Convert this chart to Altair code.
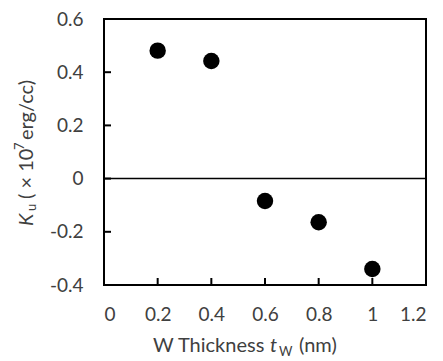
import altair as alt
import pandas as pd

thickness = [0.2, 0.4, 0.6, 0.8, 1.0]
ku = [0.481, 0.442, -0.084, -0.164, -0.34]
x_ticks = [0, 0.2, 0.4, 0.6, 0.8, 1, 1.2]
y_ticks = [-0.4, -0.2, 0, 0.2, 0.4, 0.6]
x_inner_ticks = [0.2, 0.4, 0.6, 0.8, 1.0]
y_inner_ticks = [-0.2, 0, 0.2, 0.4]

FONT = "Lato"
GRAY = "#404040"
W, H = 322, 266

df = pd.DataFrame({"t": thickness, "k": ku})
xtk = pd.DataFrame({"xv": x_inner_ticks})
ytk = pd.DataFrame({"yv": y_inner_ticks})
zero = pd.DataFrame({"z": [0]})
one = pd.DataFrame({"a": [0]})

xscale = alt.Scale(domain=[0, 1.2], nice=False, zero=False)
yscale = alt.Scale(domain=[-0.4, 0.6], nice=False, zero=False)

xaxis = alt.Axis(values=x_ticks, ticks=False, domain=False, grid=False, title=None,
                 labelFont=FONT, labelFontSize=19, labelColor=GRAY, labelPadding=20,
                 labelExpr="datum.value + ''", tickSize=0)
yaxis = alt.Axis(values=y_ticks, ticks=False, domain=False, grid=False, title=None,
                 labelFont=FONT, labelFontSize=19, labelColor=GRAY, labelPadding=21,
                 labelExpr="datum.value + ''", tickSize=0)

points = alt.Chart(df).mark_circle(size=270, color="black", opacity=1).encode(
    x=alt.X("t:Q", scale=xscale, axis=xaxis),
    y=alt.Y("k:Q", scale=yscale, axis=yaxis),
)

zero_line = alt.Chart(zero).mark_rule(color="black", strokeWidth=1.5).encode(
    y=alt.Y("z:Q", scale=yscale, axis=yaxis)
)

xtick_marks = alt.Chart(xtk).mark_rule(color="black", strokeWidth=2).encode(
    x=alt.X("xv:Q", scale=xscale, axis=xaxis),
    y=alt.value(H - 7), y2=alt.value(H)
)
ytick_marks = alt.Chart(ytk).mark_rule(color="black", strokeWidth=2).encode(
    y=alt.Y("yv:Q", scale=yscale, axis=yaxis),
    x=alt.value(0), x2=alt.value(7)
)

def txt(s, x, y, size=20, style="normal", angle=0):
    return alt.Chart(one).mark_text(
        text=s, font=FONT, fontSize=size, fontStyle=style, color=GRAY,
        align="left", baseline="alphabetic", angle=angle
    ).encode(x=alt.value(x), y=alt.value(y))

# x-axis title pieces
xt1 = txt("W Thickness", 49, 333)
xt2 = txt("t", 166, 333, style="italic")
xt3 = txt("W", 175, 337, size=13)
xt4 = txt("(nm)", 195, 333)

# y-axis title pieces (rotated)
yt1 = txt("K", -71, 207, style="italic", angle=270)
yt2 = txt("u", -68, 192, size=13, angle=270)
yt3 = txt("( \u00d7 10", -71, 180, angle=270)
yt4 = txt("7", -80, 131, size=13, angle=270)
yt5 = txt("erg/cc)", -71, 121, angle=270)

chart = alt.layer(
    points, zero_line, xtick_marks, ytick_marks,
    xt1, xt2, xt3, xt4, yt1, yt2, yt3, yt4, yt5
).properties(
    width=W, height=H,
    autosize=alt.AutoSizeParams(type="none"),
    padding={"left": 96, "top": 11, "right": 9, "bottom": 73},
).configure_view(stroke="black", strokeWidth=2)

chart.save("out.html", embed_options={"renderer": "svg", "actions": False})
